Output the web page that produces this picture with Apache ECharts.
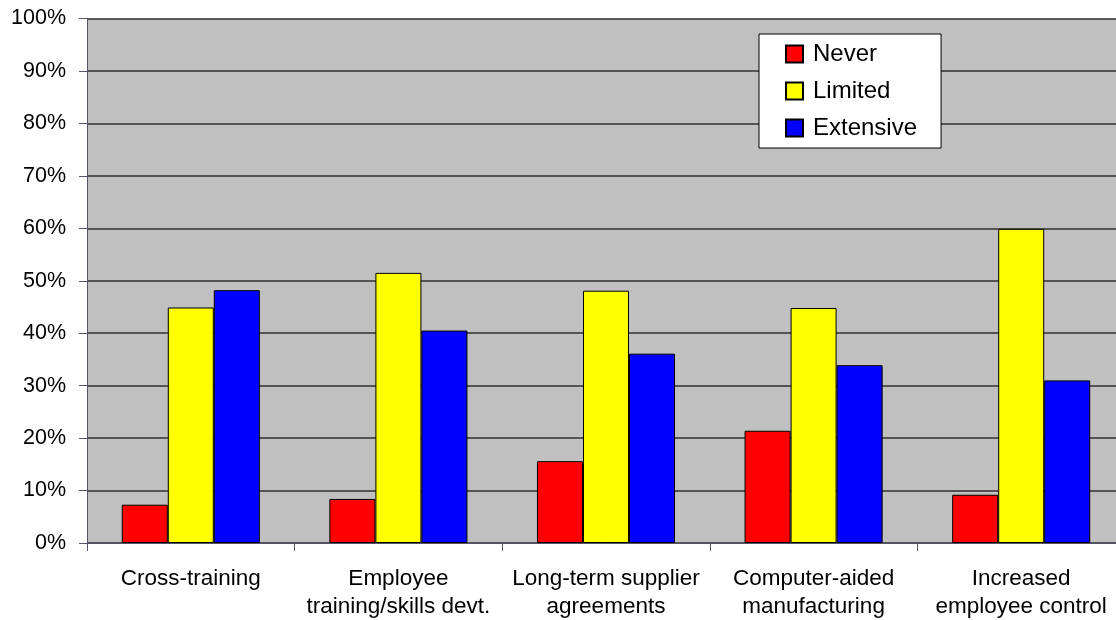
<!DOCTYPE html>
<html>
<head>
<meta charset="utf-8">
<script src="https://cdn.jsdelivr.net/npm/echarts@6/dist/echarts.min.js"></script>
<style>
html,body{margin:0;padding:0;background:#fff;}
#c{width:1116px;height:620px;}
</style>
</head>
<body>
<div id="c"></div>
<script>
const categories = ["Cross-training", "Employee\ntraining/skills devt.", "Long-term supplier\nagreements", "Computer-aided\nmanufacturing", "Increased\nemployee control"];
const never = [7.3, 8.4, 15.6, 21.4, 9.2];
const limited = [44.9, 51.5, 48.1, 44.8, 59.9];
const extensive = [48.2, 40.5, 36.1, 33.9, 31.0];
const seriesNames = ["Never", "Limited", "Extensive"];
const yTicks = [0, 10, 20, 30, 40, 50, 60, 70, 80, 90, 100];

const chart = echarts.init(document.getElementById('c'), null, {renderer: 'canvas'});
const font = 'Arial, "Liberation Sans", sans-serif';
function bar(name, data, color) {
  return {
    name: name, type: 'bar', data: data,
    barGap: '0%', barCategoryGap: '33.5%',
    itemStyle: {color: color, borderColor: '#000', borderWidth: 1},
    emphasis: {disabled: true}
  };
}
chart.setOption({
  animation: false,
  backgroundColor: '#fff',
  grid: {left: 87, top: 18.5, bottom: 77, right: -9, show: true, backgroundColor: '#c0c0c0', borderWidth: 0,
    containLabel: false, outerBoundsMode: 'none'},
  legend: {
    orient: 'vertical', left: 759, top: 34,
    backgroundColor: '#fff', borderColor: '#000', borderWidth: 1,
    padding: [8, 24, 8, 26],
    icon: 'rect',
    itemWidth: 17, itemHeight: 17, itemGap: 13,
    textStyle: {fontSize: 24, fontFamily: font, color: '#000', padding: [0, 0, 0, 5]},
    data: seriesNames
  },
  xAxis: {
    type: 'category', data: categories,
    axisLine: {lineStyle: {color: '#55556a', width: 1}},
    axisTick: {show: true, length: 8, lineStyle: {color: '#55556a'}},
    axisLabel: {fontSize: 22.5, fontFamily: font, color: '#000', margin: 22, lineHeight: 28, interval: 0},
    splitLine: {show: false}
  },
  yAxis: {
    type: 'value', min: 0, max: 100, interval: 10,
    axisLine: {show: true, lineStyle: {color: '#55556a', width: 1}},
    axisTick: {show: true, length: 8, lineStyle: {color: '#55556a'}},
    axisLabel: {fontSize: 21.5, fontFamily: font, color: '#000', margin: 21,
      formatter: v => yTicks.indexOf(v) >= 0 ? v + '%' : ''},
    splitLine: {show: true, lineStyle: {color: '#303030', width: 1.5}}
  },
  series: [
    bar(seriesNames[0], never, '#ff0000'),
    bar(seriesNames[1], limited, '#ffff00'),
    bar(seriesNames[2], extensive, '#0000ff')
  ]
});
</script>
</body>
</html>
